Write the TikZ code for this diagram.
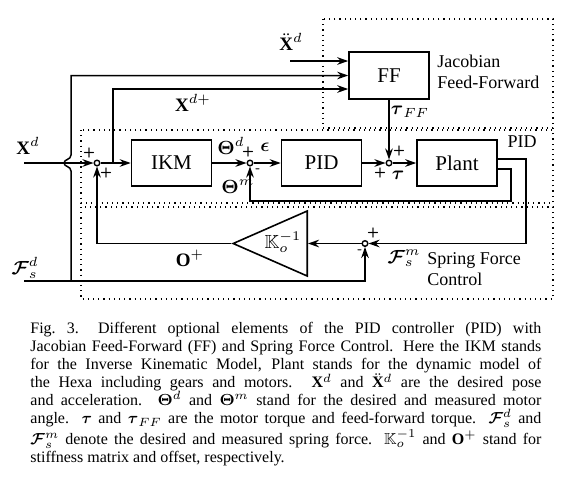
\documentclass[tikz,border=0pt]{standalone}
\usepackage{fix-cm}
\usepackage{amsmath, amssymb}
\usepackage{fontspec}
\setmainfont{Liberation Serif}
\usetikzlibrary{arrows.meta, positioning, calc, shapes.geometric}

\tikzset{
  block/.style={draw, line width=0.8pt, minimum width=40pt, minimum height=23pt, inner sep=0pt, font=\fontsize{10.5}{12}\selectfont},
  sumnode/.style={draw, circle, line width=0.7pt, minimum size=2.8pt, inner sep=0pt},
  sig/.style={-{Stealth[length=5.5pt, width=3.8pt]}, line width=0.75pt},
  frame/.style={dotted, line width=0.6pt},
  sign/.style={font=\fontsize{7}{7}\selectfont\sffamily\bfseries, inner sep=0pt},
  lbl/.style={font=\fontsize{9.5}{11}\selectfont, inner sep=0pt},
  note/.style={font=\fontsize{9}{10.5}\selectfont, inner sep=0pt, align=left},
}

\begin{document}
\begin{tikzpicture}[x=0.5pt, y=-0.5pt]
  \useasboundingbox (0,0) rectangle (571,499);

  % Dotted frames
  \draw[frame] (323,19) rectangle (553,128);
  \draw[frame] (81,130) rectangle (553,203);
  \draw[frame] (81,207) rectangle (553,299);

  % Blocks
  \node[block] (ikm) at (171.5,163) {IKM};
  \node[block] (pid) at (321.5,163) {PID};
  \node[block] (plant) at (457,163) {Plant};
  \node[block, minimum height=23.5pt] (ff) at (389,75.5) {FF};
  \node[draw, line width=0.8pt, isosceles triangle, isosceles triangle stretches, shape border rotate=180,
        minimum width=32.5pt, minimum height=37pt, inner sep=0pt, anchor=lower side] (kinv) at (308,243.5) {};
  \node[lbl] (klbl) at (283,242) {$\mathbb{K}_o^{-1}$};

  % Summing junctions
  \node[sumnode] (s1) at (97,163) {};
  \node[sumnode] (s2) at (250,163) {};
  \node[sumnode] (s3) at (389,163) {};
  \node[sumnode] (s4) at (365,243.5) {};

  % Inputs
  \coordinate (xdin) at (24,163);
  \coordinate (fdin) at (24,281);
  \coordinate (fbranch) at (71,281);
  \coordinate (xdbranch) at (113,163);
  \coordinate (xddin) at (290,61);

  % Forward path
  \draw[sig] (xdin) -- (s1);
  \draw[sig] (s1) -- (ikm);
  \draw[sig] (ikm) -- (s2);
  \draw[sig] (s2) -- (pid);
  \draw[sig] (pid) -- (s3);
  \draw[sig] (s3) -- (plant);
  \draw[sig] (ff) -- (s3);

  % Feed-forward inputs
  \draw[sig] (xddin) -- (xddin -| ff.west);
  \draw[sig] (xdbranch) |- ([yshift=-6.75pt]ff.west);
  \draw[sig] (fbranch) -- (71,171) .. controls (71,166) and (64,167) .. (64,163)
    .. controls (64,159) and (71,160) .. (71,155) |- (ff.west);

  % Feedback loops
  \draw[sig] ([yshift=-3pt]plant.east) -- ++(13,0) -- ++(0,32) -| (s2);
  \draw[sig] ([yshift=2pt]plant.east) -- ++(28,0) |- (s4);
  \draw[sig] (fdin) -| (s4);
  \draw[sig] (s4) -- (kinv.lower side);
  \draw[sig] (kinv.apex) -| (s1);

  % Signal labels
  \node[lbl] (xdlbl) at (28,146) {$\mathbf{X}^d$};
  \node[lbl] (xddlbl) at (291,42) {$\ddot{\mathbf{X}}^d$};
  \node[lbl] (xdplbl) at (193,103) {$\mathbf{X}^{d+}$};
  \node[lbl] (thdlbl) at (231,146) {$\boldsymbol{\Theta}^d$};
  \node[lbl] (epslbl) at (265,147) {$\boldsymbol{\epsilon}$};
  \node[lbl] (thmlbl) at (238,187) {$\boldsymbol{\Theta}^m$};
  \node[lbl] (tauff) at (410,112) {$\boldsymbol{\tau}_{FF}$};
  \node[lbl] (taulbl) at (398,175) {$\boldsymbol{\tau}$};
  \node[lbl] (oplus) at (190,258) {$\mathbf{O}^+$};
  \node[lbl] (fsdlbl) at (25,268) {$\boldsymbol{\mathcal{F}}_s^d$};
  \node[lbl] (fsmlbl) at (404,258) {$\boldsymbol{\mathcal{F}}_s^m$};

  % Signs
  \node[sign] (s1a) at (89,153) {+};
  \node[sign] (s1b) at (106,173) {+};
  \node[sign] (s2a) at (248,152) {+};
  \node[sign] (s2b) at (258,171) {-};
  \node[sign] (s3a) at (399,151) {+};
  \node[sign] (s3b) at (380,173) {+};
  \node[sign] (s4a) at (373,233) {+};
  \node[sign] (s4b) at (360,252) {-};

  % Frame titles
  \node[note, anchor=west] (jffl) at (437,72) {Jacobian\\Feed-Forward};
  \node[note] (pidlbl) at (522,142) {PID};
  \node[note, anchor=north west] (sfclbl) at (427,252) {Spring Force\\Control};

  % Caption
  \node[anchor=north west, inner sep=0pt, text width=255.5pt, align=justify,
        font=\fontsize{8}{9}\selectfont] (cap) at (30,322) {%
    Fig.~3.\hspace{1.2em}Different optional elements of the PID controller (PID) with\linebreak
    Jacobian Feed-Forward (FF) and Spring Force Control. Here the IKM stands\linebreak
    for the Inverse Kinematic Model, Plant stands for the dynamic model of\linebreak
    the Hexa including gears and motors. $\mathbf{X}^d$ and $\ddot{\mathbf{X}}^d$ are the desired pose\linebreak
    and acceleration. $\boldsymbol{\Theta}^d$ and $\boldsymbol{\Theta}^m$ stand for the desired and measured motor\linebreak
    angle. $\boldsymbol{\tau}$ and $\boldsymbol{\tau}_{FF}$ are the motor torque and feed-forward torque. $\boldsymbol{\mathcal{F}}_s^d$ and\linebreak
    $\boldsymbol{\mathcal{F}}_s^m$ denote the desired and measured spring force. $\mathbb{K}_o^{-1}$ and $\mathbf{O}^+$ stand for\linebreak
    stiffness matrix and offset, respectively.};
\end{tikzpicture}
\end{document}
